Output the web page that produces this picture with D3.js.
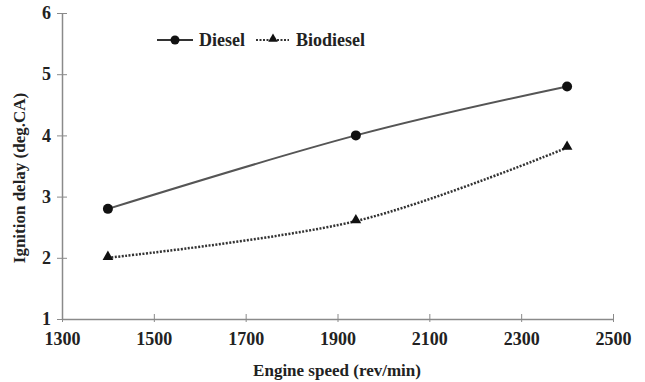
<!DOCTYPE html>
<html>
<head>
<meta charset="utf-8">
<script src="https://cdn.jsdelivr.net/npm/d3@7"></script>
<style>
  body { margin: 0; background: #fff; }
  text { font-family: "Liberation Serif", "Times New Roman", serif; font-weight: bold; fill: #222; }
</style>
</head>
<body>
<script>
// Data.
var speeds = [1400, 1940, 2400];
var diesel = [2.8, 4.0, 4.8];
var biodiesel = [2.0, 2.6, 3.8];
var xTicks = [1300, 1500, 1700, 1900, 2100, 2300, 2500];
var yTicks = [1, 2, 3, 4, 5, 6];

var width = 645, height = 382;
var svg = d3.select("body").append("svg")
        .attr("width", width)
        .attr("height", height);

var x = d3.scaleLinear().domain([1300, 2500]).range([62, 613]);
var y = d3.scaleLinear().domain([1, 6]).range([319, 13]);

// Axes.
var axisColor = "#8a8a8a";
var xAxis = svg.append("g").attr("transform", "translate(0," + y(1) + ")")
        .call(d3.axisBottom(x).tickValues(xTicks).tickSize(0).tickPadding(13).tickFormat(d3.format("d")));
xAxis.selectAll(".tick").append("line").attr("y1", -5).attr("y2", 3).attr("stroke", axisColor);
var yAxis = svg.append("g").attr("transform", "translate(" + x(1300) + ",0)")
        .call(d3.axisLeft(y).tickValues(yTicks).tickSize(0).tickPadding(11).tickFormat(d3.format("d")));
yAxis.selectAll(".tick").append("line").attr("x1", -5).attr("x2", 5).attr("stroke", axisColor);
svg.selectAll(".domain").attr("stroke", axisColor).attr("stroke-width", 1.5);
svg.selectAll(".tick text").style("font-size", "18px").style("font-family", "Liberation Serif").style("font-weight", "bold").attr("fill", "#222");

// Axis titles.
svg.append("text").attr("x", 337).attr("y", 376).attr("text-anchor", "middle")
        .style("font-size", "17px").text("Engine speed (rev/min)");
svg.append("text").attr("transform", "translate(25,178) rotate(-90)").attr("text-anchor", "middle")
        .style("font-size", "17px").text("Ignition delay (deg.CA)");

// Series.
var line = d3.line()
        .x(function(d) { return x(d[0]); })
        .y(function(d) { return y(d[1]); })
        .curve(d3.curveCardinal.tension(0));
var dieselPts = speeds.map(function(s, i) { return [s, diesel[i]]; });
var bioPts = speeds.map(function(s, i) { return [s, biodiesel[i]]; });

svg.append("path").datum(dieselPts).attr("d", line)
        .attr("fill", "none").attr("stroke", "#555").attr("stroke-width", 2);
svg.append("path").datum(bioPts).attr("d", line)
        .attr("fill", "none").attr("stroke", "#333").attr("stroke-width", 2.5).attr("stroke-dasharray", "2,1.5");

svg.selectAll(".dot").data(dieselPts).enter().append("circle")
        .attr("cx", function(d) { return x(d[0]); })
        .attr("cy", function(d) { return y(d[1]); })
        .attr("r", 5).attr("fill", "#111");
var tri = d3.symbol().type(d3.symbolTriangle).size(50);
svg.selectAll(".tri").data(bioPts).enter().append("path")
        .attr("d", tri)
        .attr("transform", function(d) { return "translate(" + x(d[0]) + "," + (y(d[1]) - 1) + ")"; })
        .attr("fill", "#111");

// Legend.
var leg = svg.append("g");
leg.append("line").attr("x1", 157).attr("x2", 193).attr("y1", 40).attr("y2", 40).attr("stroke", "#333").attr("stroke-width", 2);
leg.append("circle").attr("cx", 175).attr("cy", 40).attr("r", 4.5).attr("fill", "#111");
leg.append("text").attr("x", 199).attr("y", 46).style("font-size", "18px").text("Diesel");
leg.append("line").attr("x1", 256).attr("x2", 289).attr("y1", 40).attr("y2", 40).attr("stroke", "#333").attr("stroke-width", 2).attr("stroke-dasharray", "2,1.5");
leg.append("path").attr("d", d3.symbol().type(d3.symbolTriangle).size(40)).attr("transform", "translate(273,39)").attr("fill", "#111");
leg.append("text").attr("x", 296).attr("y", 46).style("font-size", "18px").text("Biodiesel");
</script>
</body>
</html>
